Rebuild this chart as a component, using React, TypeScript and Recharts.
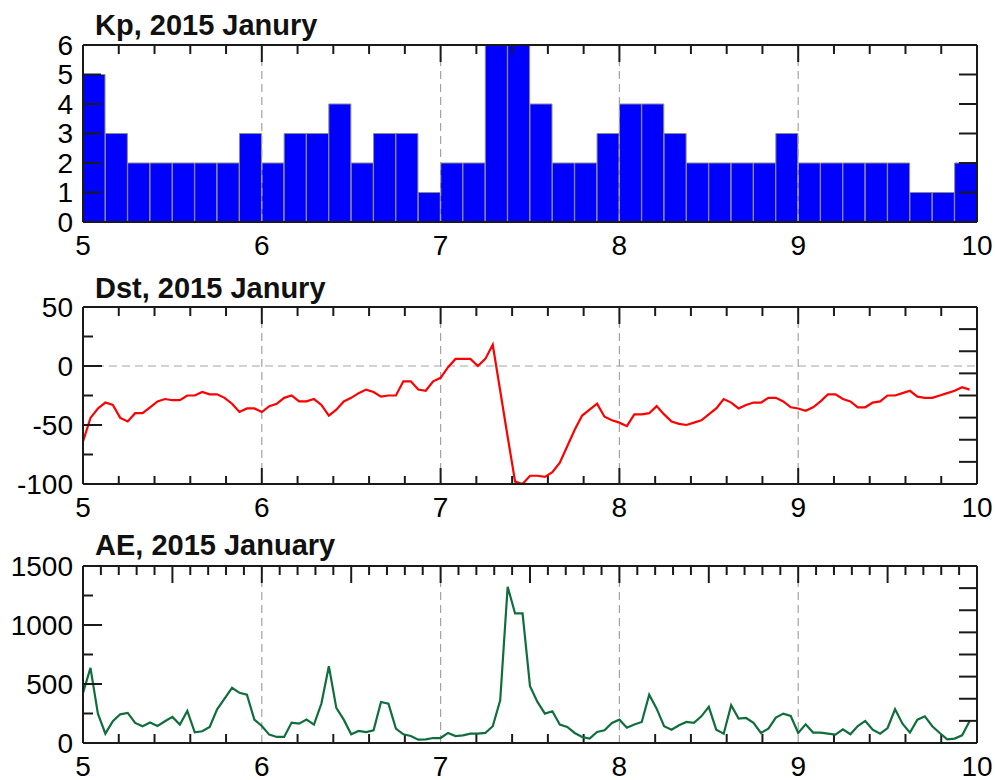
import React from "react";
import { ComposedChart, Bar, Line, XAxis, YAxis, ReferenceLine } from "recharts";

// day-of-month labels on the time axis
const DAYS = [5, 6, 7, 8, 9, 10];
const GRID_DAYS = [6, 7, 8, 9];

// Kp, 3-hour values, 2015 Jan 5-9
const KP = [
  5, 3, 2, 2, 2, 2, 2, 3,
  2, 3, 3, 4, 2, 3, 3, 1,
  2, 2, 6, 6, 4, 2, 2, 3,
  4, 4, 3, 2, 2, 2, 2, 3,
  2, 2, 2, 2, 2, 1, 1, 2,
];

// Dst, hourly (nT)
const DST = [
  -64, -44, -36, -31, -33, -44, -47, -40, -40, -35, -30, -28, -29, -29, -25, -25, -22, -24, -24, -27, -32, -39, -36, -36,
  -39, -34, -32, -27, -25, -30, -30, -28, -33, -42, -37, -30, -27, -23, -20, -22, -26, -25, -25, -13, -13, -20, -21, -13,
  -10, -1, 6, 6, 6, 0, 6, 18, -21, -60, -98, -100, -93, -93, -94, -90, -82, -68, -54, -42, -37, -32, -43, -46,
  -48, -51, -41, -41, -40, -34, -41, -47, -49, -50, -48, -46, -41, -36, -28, -31, -36, -33, -31, -31, -27, -27, -30, -35,
  -36, -38, -35, -30, -24, -24, -28, -30, -35, -35, -31, -30, -25, -25, -23, -21, -26, -27, -27, -25, -23, -21, -18, -20,
];

// AE, hourly (nT)
const AE = [
  425, 637, 249, 79, 184, 243, 255, 170, 142, 173, 144, 184, 221, 156, 272, 91, 99, 136, 286, 376, 467, 425, 410, 198,
  144, 71, 51, 51, 173, 164, 198, 156, 334, 651, 297, 198, 74, 102, 93, 108, 348, 334, 122, 74, 59, 28, 31, 42,
  42, 85, 59, 65, 79, 79, 85, 142, 362, 1324, 1098, 1098, 481, 348, 249, 269, 156, 136, 85, 51, 37, 93, 108, 170,
  198, 130, 156, 178, 410, 291, 142, 113, 150, 178, 170, 226, 306, 113, 79, 320, 207, 212, 170, 85, 122, 215, 249, 229,
  85, 158, 88, 88, 79, 71, 116, 74, 144, 187, 113, 79, 127, 286, 164, 88, 198, 226, 142, 85, 31, 37, 65, 184,
];

const KP_TICKS = [0, 1, 2, 3, 4, 5, 6];
const DST_TICKS = [-100, -50, 0, 50];
const AE_TICKS = [0, 500, 1000, 1500];

const FONT = '"Liberation Sans", Arial, Helvetica, sans-serif';
const INK = "#1a1a1a";
const W = 995;
const H = 260;
const MARGIN = { top: 45, right: 18, bottom: 38, left: 83 };
const PLOT_H = H - MARGIN.top - MARGIN.bottom;
const THIN = 0.01; // axes must have a size > 0 to be drawn

const range = (a: number, b: number, s: number) => {
  const out: number[] = [];
  for (let k = 0; a + k * s <= b + 1e-9; k++) out.push(Math.round((a + k * s) * 1000) / 1000);
  return out;
};
const TIME_TICKS = range(5, 10, 0.1);
const every = (t: number, n: number) => Math.abs(t * n - Math.round(t * n)) < 1e-6;

const kpData = KP.map((v, i) => ({ i, t: 5 + (i + 0.5) / 8, v }));
const dstData = DST.map((v, i) => ({ t: 5 + i / 24, v }));
const aeData = AE.map((v, i) => ({ t: 5 + i / 24, v }));

const lineStyle = { stroke: INK, strokeWidth: 2 };
const labelStyle = { fill: "#000", fontSize: 28, fontFamily: FONT };
const noLabel = () => <g />;

// tick lengths (px) at the top and bottom edge for a time value
type Rule = { top: (t: number) => number; bottom: (t: number) => number };
const KP_RULE: Rule = {
  top: (t) => (every(t, 1) ? 17 : every(t, 5) ? 9 : 0),
  bottom: () => 0,
};
const DST_RULE: Rule = {
  top: (t) => (every(t, 1) ? 17 : every(t, 5) ? 9 : 0),
  bottom: (t) => (every(t, 1) ? 16 : every(t, 5) ? 8 : 0),
};
const AE_RULE: Rule = {
  top: (t) => (every(t, 2) ? 17 : 9),
  bottom: (t) => (every(t, 1) ? 0 : every(t, 5) ? 9 : 0),
};

// inward time ticks as short reference segments on the plot edges
function timeMarks(rule: Rule, yDomain: number[]) {
  const [lo, hi] = yDomain;
  const k = (hi - lo) / PLOT_H;
  const out: React.ReactNode[] = [];
  TIME_TICKS.forEach((t) => {
    const up = rule.top(t);
    const down = rule.bottom(t);
    if (up > 0)
      out.push(
        <ReferenceLine
          key={`u${t}`}
          segment={[{ x: t, y: hi }, { x: t, y: hi - up * k }]}
          xAxisId="b"
          yAxisId="l"
          ifOverflow="visible"
          stroke={INK}
          strokeWidth={2}
        />
      );
    if (down > 0)
      out.push(
        <ReferenceLine
          key={`d${t}`}
          segment={[{ x: t, y: lo }, { x: t, y: lo + down * k }]}
          xAxisId="b"
          yAxisId="l"
          ifOverflow="visible"
          stroke={INK}
          strokeWidth={2}
        />
      );
  });
  return out;
}

function frameAxes(yDomain: number[], yLabels: number[]) {
  return [
    <XAxis
      key="b"
      xAxisId="b"
      type="number"
      dataKey="t"
      domain={[5, 10]}
      allowDataOverflow
      height={THIN}
      ticks={DAYS}
      interval={0}
      tickSize={0}
      tickMargin={13}
      axisLine={lineStyle}
      tickLine={false}
      tick={labelStyle}
    />,
    <XAxis
      key="top"
      xAxisId="top"
      type="number"
      orientation="top"
      mirror
      height={THIN}
      ticks={[0]}
      interval={0}
      tick={noLabel}
      tickLine={false}
      axisLine={lineStyle}
    />,
    <YAxis
      key="l"
      yAxisId="l"
      type="number"
      domain={yDomain}
      allowDataOverflow
      width={THIN}
      ticks={yLabels}
      interval={0}
      tickSize={0}
      tickMargin={10}
      axisLine={lineStyle}
      tickLine={false}
      tick={labelStyle}
    />,
  ];
}

function yTicks(id: string, side: "left" | "right", domain: number[], ticks: number[], size: number, edge = false) {
  return (
    <YAxis
      key={id}
      yAxisId={id}
      type="number"
      domain={domain}
      allowDataOverflow
      orientation={side}
      mirror
      width={THIN}
      ticks={ticks}
      interval={0}
      tick={noLabel}
      tickSize={size}
      stroke={INK}
      axisLine={edge ? lineStyle : false}
      tickLine={lineStyle}
    />
  );
}

function gridLines() {
  return GRID_DAYS.map((d) => (
    <ReferenceLine
      key={`g${d}`}
      x={d}
      xAxisId="b"
      yAxisId="l"
      stroke="#a3a3a3"
      strokeWidth={1.2}
      strokeDasharray="8 5"
    />
  ));
}

function Title({ top, text }: { top: number; text: string }) {
  return (
    <div
      style={{
        position: "absolute",
        left: 95,
        top,
        fontFamily: FONT,
        fontWeight: "bold",
        fontSize: 29,
        lineHeight: "29px",
        color: "#111",
        whiteSpace: "nowrap",
      }}
    >
      {text}
    </div>
  );
}

function Panel({ top, children }: { top: number; children: React.ReactNode }) {
  return <div style={{ position: "absolute", left: 0, top, width: W, height: H }}>{children}</div>;
}

export default function App() {
  return (
    <div style={{ position: "absolute", left: 0, top: 0, width: W, height: 780, background: "#fff", overflow: "hidden" }}>
      <Panel top={0}>
        <ComposedChart width={W} height={H} data={kpData} margin={MARGIN} barCategoryGap={0} barGap={0}>
          {frameAxes([0, 6], KP_TICKS)}
          <XAxis xAxisId="cat" type="category" dataKey="i" hide />
          {yTicks("lM", "left", [0, 6], KP_TICKS, 18)}
          {yTicks("r", "right", [0, 6], [1, 2, 3, 4, 5], 18, true)}
          {gridLines()}
          {timeMarks(KP_RULE, [0, 6])}
          <Bar
            dataKey="v"
            xAxisId="cat"
            yAxisId="l"
            fill="#0000ff"
            stroke="#8c8c8c"
            strokeWidth={1}
            isAnimationActive={false}
          />
        </ComposedChart>
      </Panel>
      <Title top={11} text="Kp, 2015 Janury" />

      <Panel top={262}>
        <ComposedChart width={W} height={H} data={dstData} margin={MARGIN}>
          {frameAxes([-100, 50], DST_TICKS)}
          {yTicks("lm", "left", [-100, 50], [-75, -25, 25], 10)}
          {yTicks("lM", "left", [-100, 50], DST_TICKS, 19)}
          {yTicks("r", "right", [0, 8], [1, 2, 3, 4, 5, 6, 7], 18, true)}
          {gridLines()}
          <ReferenceLine y={0} xAxisId="b" yAxisId="l" stroke="#a3a3a3" strokeWidth={1.2} strokeDasharray="8 5" />
          {timeMarks(DST_RULE, [-100, 50])}
          <Line
            type="linear"
            dataKey="v"
            xAxisId="b"
            yAxisId="l"
            stroke="#ff0000"
            strokeWidth={2.2}
            dot={false}
            isAnimationActive={false}
          />
        </ComposedChart>
      </Panel>
      <Title top={274} text="Dst, 2015 Janury" />

      <Panel top={521}>
        <ComposedChart width={W} height={H} data={aeData} margin={MARGIN}>
          {frameAxes([0, 1500], AE_TICKS)}
          {yTicks("lm", "left", [0, 1500], [250, 750, 1250], 10)}
          {yTicks("lM", "left", [0, 1500], AE_TICKS, 19)}
          {yTicks("r", "right", [0, 8], [1, 2, 3, 4, 5, 6, 7], 18, true)}
          {gridLines()}
          {timeMarks(AE_RULE, [0, 1500])}
          <Line
            type="linear"
            dataKey="v"
            xAxisId="b"
            yAxisId="l"
            stroke="#0f6e3c"
            strokeWidth={2.2}
            dot={false}
            isAnimationActive={false}
          />
        </ComposedChart>
      </Panel>
      <Title top={531} text="AE, 2015 January" />
    </div>
  );
}
